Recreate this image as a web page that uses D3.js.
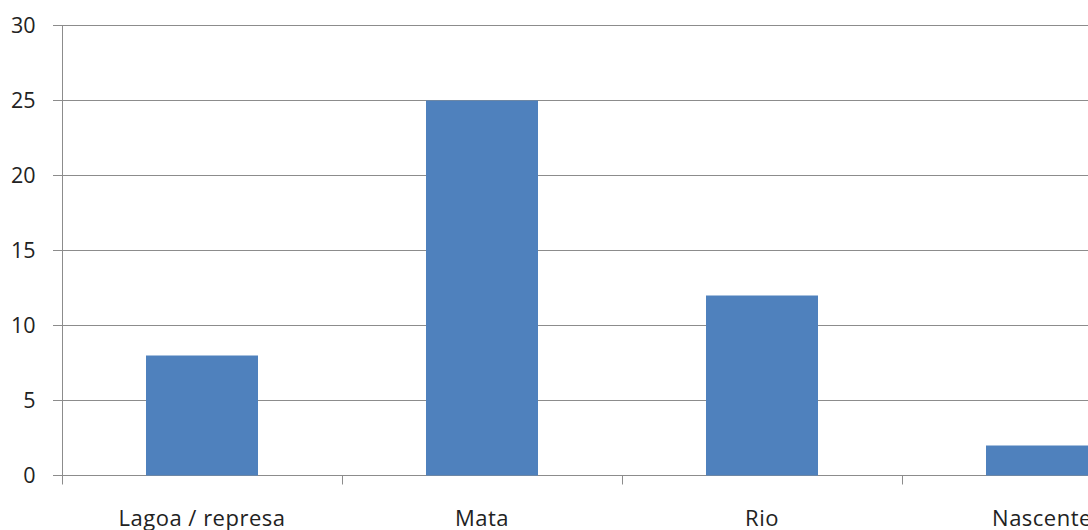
<!DOCTYPE html>
<html><head><meta charset="utf-8">
<script src="https://cdn.jsdelivr.net/npm/d3@7"></script>
<style>
html,body{margin:0;padding:0;background:#fff;overflow:hidden;}
text{font-family:"Open Sans",sans-serif;fill:#222;}
</style></head>
<body>
<svg id="c" width="1088" height="530"></svg>
<script>
const categories = ["Lagoa / represa", "Mata", "Rio", "Nascente"];
const values = [8, 25, 12, 2];
const yTicks = [0, 5, 10, 15, 20, 25, 30];

const svg = d3.select("#c");
const plotLeft = 62, plotRight = 1182, plotTop = 25.5, plotBottom = 475.5;
const x = d3.scaleBand().domain(categories).range([plotLeft, plotRight]).paddingInner(0.6).paddingOuter(0.3);
const y = d3.scaleLinear().domain([0, 30]).range([plotBottom, plotTop]);

// gridlines
svg.append("g").selectAll("line").data(yTicks).join("line")
  .attr("x1", plotLeft - 9).attr("x2", 1088)
  .attr("y1", d => y(d)).attr("y2", d => y(d))
  .attr("stroke", "#8c8c8c").attr("stroke-width", 1);

// y labels
svg.append("g").selectAll("text").data(yTicks).join("text")
  .attr("x", 35.5).attr("y", d => y(d)).attr("dy", "0.36em")
  .attr("text-anchor", "end").attr("font-size", 21.5)
  .text(d => d);

// bars
svg.append("g").selectAll("rect").data(values).join("rect")
  .attr("x", (d, i) => x(categories[i]))
  .attr("width", x.bandwidth())
  .attr("y", d => y(d))
  .attr("height", d => y(0) - y(d))
  .attr("fill", "#4f81bd");

// y axis line
svg.append("line").attr("x1", plotLeft + 0.5).attr("x2", plotLeft + 0.5)
  .attr("y1", plotTop).attr("y2", plotBottom)
  .attr("stroke", "#8c8c8c");

// x axis ticks at category boundaries
const step = x.step();
const bounds = d3.range(categories.length + 1).map(i => x.range()[0] + i * step);
svg.append("g").selectAll("line").data(bounds).join("line")
  .attr("x1", d => Math.round(d) + 0.5).attr("x2", d => Math.round(d) + 0.5)
  .attr("y1", plotBottom).attr("y2", plotBottom + 9)
  .attr("stroke", "#8c8c8c");

// x labels
svg.append("g").selectAll("text").data(categories).join("text")
  .attr("x", d => x(d) + x.bandwidth() / 2).attr("y", 525.5)
  .attr("text-anchor", "middle").attr("font-size", 22)
  .attr("letter-spacing", "0.5px")
  .text(d => d);
</script>
</body></html>
